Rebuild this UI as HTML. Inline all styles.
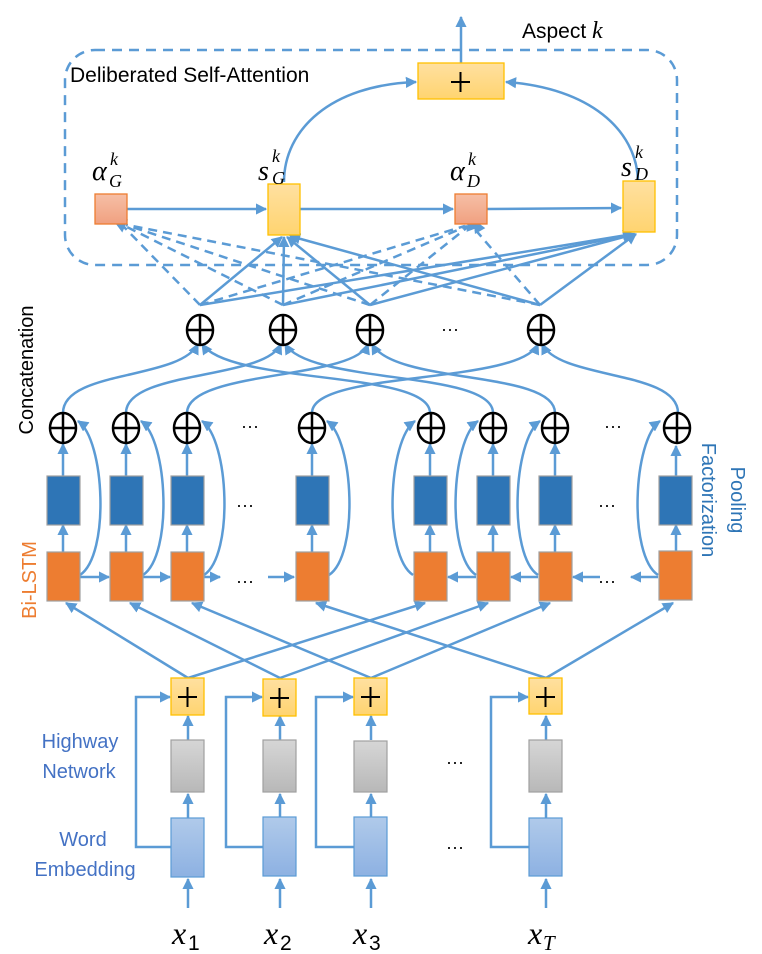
<!DOCTYPE html>
<html><head><meta charset="utf-8"><style>
html,body{margin:0;padding:0;background:#fff;}
svg{display:block;}
text{font-family:"Liberation Sans",sans-serif;}
text.m{font-family:"Liberation Serif",serif;font-style:italic;}
</style></head><body>
<svg width="762" height="954" viewBox="0 0 762 954" xmlns="http://www.w3.org/2000/svg">
<defs>
<marker id="a" viewBox="0 0 10 10" refX="9" refY="5" markerWidth="4.5" markerHeight="4.5" orient="auto"><path d="M0,0 L10,5 L0,10 z" fill="#5B9BD5"/></marker>
<linearGradient id="gold" x1="0" y1="0" x2="0" y2="1"><stop offset="0" stop-color="#FFE0A0"/><stop offset="1" stop-color="#FFD470"/></linearGradient>
<linearGradient id="sal" x1="0" y1="0" x2="0" y2="1"><stop offset="0" stop-color="#F6BFA6"/><stop offset="1" stop-color="#F0A080"/></linearGradient>
<linearGradient id="gray" x1="0" y1="0" x2="0" y2="1"><stop offset="0" stop-color="#D6D6D6"/><stop offset="1" stop-color="#B8B8B8"/></linearGradient>
<linearGradient id="emb" x1="0" y1="0" x2="0" y2="1"><stop offset="0" stop-color="#B0CAEA"/><stop offset="1" stop-color="#8DB1E2"/></linearGradient>
</defs>
<g fill="none" stroke="#5B9BD5" stroke-width="2.5">
<rect x="65" y="50" width="612" height="215" rx="30" stroke-dasharray="10,7"/>
<line x1="461" y1="63" x2="461" y2="17" marker-end="url(#a)"/>
<line x1="127" y1="209" x2="266" y2="209" marker-end="url(#a)"/>
<line x1="300" y1="209" x2="453" y2="209" marker-end="url(#a)"/>
<line x1="487" y1="209" x2="621" y2="208" marker-end="url(#a)"/>
<path d="M284,182 C284,130 330,85 416,82" marker-end="url(#a)"/>
<path d="M638,180 C636,130 590,88 506,82" marker-end="url(#a)"/>
<line x1="200" y1="305" x2="282" y2="237" marker-end="url(#a)"/>
<line x1="283" y1="305" x2="284" y2="237" marker-end="url(#a)"/>
<line x1="370" y1="305" x2="287" y2="237" marker-end="url(#a)"/>
<line x1="540" y1="305" x2="290" y2="236" marker-end="url(#a)"/>
<line x1="200" y1="305" x2="633" y2="234" marker-end="url(#a)"/>
<line x1="283" y1="305" x2="634" y2="234" marker-end="url(#a)"/>
<line x1="370" y1="305" x2="635" y2="234" marker-end="url(#a)"/>
<line x1="540" y1="305" x2="636" y2="234" marker-end="url(#a)"/>
<g stroke-dasharray="9,6">
<line x1="200" y1="305" x2="124" y2="227"/>
<line x1="283" y1="305" x2="125" y2="226"/>
<line x1="370" y1="305" x2="126" y2="225"/>
<line x1="540" y1="305" x2="127" y2="225"/>
<line x1="200" y1="305" x2="465" y2="226"/>
<line x1="283" y1="305" x2="467" y2="226"/>
<line x1="370" y1="305" x2="469" y2="226"/>
<line x1="540" y1="305" x2="473" y2="227"/>
</g>
<path d="M122,230 l-6,-8 l10,-1 z" fill="#5B9BD5"/>
<path d="M468,230 l1,-10 l7,7 z" fill="#5B9BD5"/>
<path d="M476,232 l-1,-10 l8,6 z" fill="#5B9BD5"/>
<path d="M63,413 C63,370 180,380 198,344" marker-end="url(#a)"/>
<path d="M430,413 C430,370 230,385 202,344" marker-end="url(#a)"/>
<path d="M126,413 C126,370 265,380 281,344" marker-end="url(#a)"/>
<path d="M493,413 C493,370 310,385 285,344" marker-end="url(#a)"/>
<path d="M187,413 C187,370 355,380 368,344" marker-end="url(#a)"/>
<path d="M555,413 C555,370 395,385 372,344" marker-end="url(#a)"/>
<path d="M312,413 C312,370 520,385 538,344" marker-end="url(#a)"/>
<path d="M678,413 C678,370 560,380 542,344" marker-end="url(#a)"/>
<line x1="80" y1="577" x2="109" y2="577" marker-end="url(#a)"/>
<line x1="143" y1="577" x2="170" y2="577" marker-end="url(#a)"/>
<line x1="204" y1="577" x2="220" y2="577" marker-end="url(#a)"/>
<line x1="268" y1="577" x2="294" y2="577" marker-end="url(#a)"/>
<line x1="476" y1="577" x2="448" y2="577" marker-end="url(#a)"/>
<line x1="538" y1="577" x2="511" y2="577" marker-end="url(#a)"/>
<line x1="600" y1="577" x2="573" y2="577" marker-end="url(#a)"/>
<line x1="658" y1="577" x2="631" y2="577" marker-end="url(#a)"/>
<path d="M80,575 C110,555 105,440 78,421" marker-end="url(#a)"/>
<path d="M143,575 C173,555 168,440 141,421" marker-end="url(#a)"/>
<path d="M204,575 C234,555 229,440 202,421" marker-end="url(#a)"/>
<path d="M329,575 C359,555 354,440 327,421" marker-end="url(#a)"/>
<path d="M413,575 C383,555 388,440 415,421" marker-end="url(#a)"/>
<path d="M476,575 C446,555 451,440 478,421" marker-end="url(#a)"/>
<path d="M538,575 C508,555 513,440 540,421" marker-end="url(#a)"/>
<path d="M658,575 C628,555 633,440 660,421" marker-end="url(#a)"/>
<line x1="188" y1="678" x2="66" y2="603" marker-end="url(#a)"/>
<line x1="280" y1="678" x2="130" y2="603" marker-end="url(#a)"/>
<line x1="371" y1="678" x2="192" y2="603" marker-end="url(#a)"/>
<line x1="546" y1="678" x2="316" y2="603" marker-end="url(#a)"/>
<line x1="188" y1="678" x2="425" y2="603" marker-end="url(#a)"/>
<line x1="280" y1="678" x2="488" y2="603" marker-end="url(#a)"/>
<line x1="371" y1="678" x2="550" y2="603" marker-end="url(#a)"/>
<line x1="546" y1="678" x2="673" y2="603" marker-end="url(#a)"/>
<line x1="63" y1="552" x2="63" y2="525" marker-end="url(#a)"/><line x1="63" y1="476" x2="63" y2="444" marker-end="url(#a)"/>
<line x1="126" y1="552" x2="126" y2="525" marker-end="url(#a)"/><line x1="126" y1="476" x2="126" y2="444" marker-end="url(#a)"/>
<line x1="187" y1="552" x2="187" y2="525" marker-end="url(#a)"/><line x1="187" y1="476" x2="187" y2="444" marker-end="url(#a)"/>
<line x1="312" y1="552" x2="312" y2="525" marker-end="url(#a)"/><line x1="312" y1="476" x2="312" y2="444" marker-end="url(#a)"/>
<line x1="430" y1="552" x2="430" y2="525" marker-end="url(#a)"/><line x1="430" y1="476" x2="430" y2="444" marker-end="url(#a)"/>
<line x1="493" y1="552" x2="493" y2="525" marker-end="url(#a)"/><line x1="493" y1="476" x2="493" y2="444" marker-end="url(#a)"/>
<line x1="555" y1="552" x2="555" y2="525" marker-end="url(#a)"/><line x1="555" y1="476" x2="555" y2="444" marker-end="url(#a)"/>
<line x1="676" y1="552" x2="676" y2="525" marker-end="url(#a)"/><line x1="676" y1="476" x2="676" y2="446" marker-end="url(#a)"/>
<line x1="188" y1="908" x2="188" y2="879" marker-end="url(#a)"/><line x1="188" y1="818" x2="188" y2="794" marker-end="url(#a)"/><line x1="188" y1="740" x2="188" y2="716" marker-end="url(#a)"/>
<path d="M171,847 H136 V697 H170" marker-end="url(#a)"/>
<line x1="280" y1="908" x2="280" y2="879" marker-end="url(#a)"/><line x1="280" y1="818" x2="280" y2="794" marker-end="url(#a)"/><line x1="280" y1="740" x2="280" y2="716" marker-end="url(#a)"/>
<path d="M263,847 H226 V697 H262" marker-end="url(#a)"/>
<line x1="371" y1="908" x2="371" y2="879" marker-end="url(#a)"/><line x1="371" y1="818" x2="371" y2="794" marker-end="url(#a)"/><line x1="371" y1="740" x2="371" y2="716" marker-end="url(#a)"/>
<path d="M354,847 H316 V697 H353" marker-end="url(#a)"/>
<line x1="546" y1="908" x2="546" y2="879" marker-end="url(#a)"/><line x1="546" y1="818" x2="546" y2="794" marker-end="url(#a)"/><line x1="546" y1="740" x2="546" y2="716" marker-end="url(#a)"/>
<path d="M529,847 H491 V697 H528" marker-end="url(#a)"/>
</g>
<g stroke="#A0A0A0" stroke-width="1.2">
<g fill="#ED7D31">
<rect x="47" y="552" width="33" height="49"/><rect x="110" y="552" width="33" height="49"/><rect x="171" y="552" width="33" height="49"/><rect x="296" y="552" width="33" height="49"/>
<rect x="414" y="552" width="33" height="49"/><rect x="477" y="552" width="33" height="49"/><rect x="539" y="552" width="33" height="49"/><rect x="659" y="551" width="33" height="49"/>
</g>
<g fill="#2E75B6">
<rect x="47" y="476" width="33" height="49"/><rect x="110" y="476" width="33" height="49"/><rect x="171" y="476" width="33" height="49"/><rect x="296" y="476" width="33" height="49"/>
<rect x="414" y="476" width="33" height="49"/><rect x="477" y="476" width="33" height="49"/><rect x="539" y="476" width="33" height="49"/><rect x="659" y="476" width="33" height="49"/>
</g>
<g fill="url(#gray)">
<rect x="171" y="740" width="33" height="52"/><rect x="263" y="740" width="33" height="52"/><rect x="354" y="741" width="33" height="51"/><rect x="529" y="740" width="33" height="52"/>
</g>
</g>
<g fill="url(#emb)" stroke="#5B9BD5" stroke-width="1.2">
<rect x="171" y="818" width="33" height="59"/><rect x="263" y="817" width="33" height="59"/><rect x="354" y="817" width="33" height="59"/><rect x="529" y="818" width="33" height="58"/>
</g>
<g fill="url(#gold)" stroke="#FFC000" stroke-width="1.3">
<rect x="171" y="678" width="33" height="37"/><rect x="263" y="679" width="33" height="37"/><rect x="354" y="678" width="33" height="37"/><rect x="529" y="678" width="33" height="36"/>
<rect x="418" y="63" width="86" height="36"/>
<rect x="268" y="184" width="32" height="51"/>
<rect x="623" y="181" width="32" height="51"/>
</g>
<g fill="url(#sal)" stroke="#ED7D31" stroke-width="1.3">
<rect x="95" y="194" width="32" height="30"/><rect x="455" y="194" width="32" height="30"/>
</g>
<g stroke="#000" stroke-width="2">
<path d="M178,697 h19 M187.5,687 v20"/><path d="M270,698 h19 M279.5,688 v20"/><path d="M361,697 h19 M370.5,687 v20"/><path d="M536,697 h19 M545.5,687 v20"/>
<path d="M451,82 h19 M460.5,72 v20"/>
</g>
<g fill="none" stroke="#000" stroke-width="2.5">
<ellipse cx="63" cy="428" rx="13" ry="15"/><path d="M50,428 h26 M63,413 v30"/>
<ellipse cx="126" cy="428" rx="13" ry="15"/><path d="M113,428 h26 M126,413 v30"/>
<ellipse cx="187" cy="428" rx="13" ry="15"/><path d="M174,428 h26 M187,413 v30"/>
<ellipse cx="312" cy="428" rx="13" ry="15"/><path d="M299,428 h26 M312,413 v30"/>
<ellipse cx="431" cy="428" rx="13" ry="15"/><path d="M418,428 h26 M431,413 v30"/>
<ellipse cx="493" cy="428" rx="13" ry="15"/><path d="M480,428 h26 M493,413 v30"/>
<ellipse cx="555" cy="428" rx="13" ry="15"/><path d="M542,428 h26 M555,413 v30"/>
<ellipse cx="677" cy="428" rx="13" ry="15"/><path d="M664,428 h26 M677,413 v30"/>
<ellipse cx="200" cy="330" rx="13" ry="15"/><path d="M187,330 h26 M200,315 v30"/>
<ellipse cx="283" cy="330" rx="13" ry="15"/><path d="M270,330 h26 M283,315 v30"/>
<ellipse cx="370" cy="330" rx="13" ry="15"/><path d="M357,330 h26 M370,315 v30"/>
<ellipse cx="541" cy="330" rx="13" ry="15"/><path d="M528,330 h26 M541,315 v30"/>
</g>
<g font-size="18" fill="#000" text-anchor="middle">
<text x="450" y="335">···</text>
<text x="250" y="432">···</text><text x="613" y="432">···</text>
<text x="245" y="511">···</text><text x="607" y="511">···</text>
<text x="245" y="587">···</text><text x="607" y="587">···</text>
<text x="455" y="768">···</text><text x="455" y="853">···</text>
</g>
<text x="70" y="82" font-size="21" fill="#000">Deliberated Self-Attention</text>
<text x="522" y="38" font-size="21" fill="#000">Aspect</text>
<text class="m" x="592" y="38" font-size="24" fill="#000">k</text>
<g fill="#000">
<text class="m" x="92" y="180" font-size="28">α</text><text class="m" x="110" y="165" font-size="18">k</text><text class="m" x="109" y="187" font-size="18">G</text>
<text class="m" x="258" y="180" font-size="28">s</text><text class="m" x="272" y="162" font-size="18">k</text><text class="m" x="272" y="184" font-size="18">G</text>
<text class="m" x="450" y="180" font-size="28">α</text><text class="m" x="468" y="165" font-size="18">k</text><text class="m" x="467" y="187" font-size="18">D</text>
<text class="m" x="621" y="176" font-size="28">s</text><text class="m" x="635" y="158" font-size="18">k</text><text class="m" x="635" y="180" font-size="18">D</text>
</g>
<g fill="#000">
<text class="m" x="172" y="944" font-size="32">x</text><text x="188" y="950" font-size="21" font-family="Liberation Serif">1</text>
<text class="m" x="264" y="944" font-size="32">x</text><text x="280" y="950" font-size="21" font-family="Liberation Serif">2</text>
<text class="m" x="353" y="944" font-size="32">x</text><text x="369" y="950" font-size="21" font-family="Liberation Serif">3</text>
<text class="m" x="528" y="944" font-size="32">x</text><text class="m" x="543" y="950" font-size="21">T</text>
</g>
<text transform="translate(33,370) rotate(-90)" text-anchor="middle" font-size="20" fill="#000">Concatenation</text>
<text transform="translate(36,580) rotate(-90)" text-anchor="middle" font-size="20" fill="#ED7D31">Bi-LSTM</text>
<text transform="translate(702,500) rotate(90)" text-anchor="middle" font-size="20" fill="#2E75B6">Factorization</text>
<text transform="translate(731,500) rotate(90)" text-anchor="middle" font-size="20" fill="#2E75B6">Pooling</text>
<g font-size="20" fill="#4472C4" text-anchor="middle">
<text x="80" y="748">Highway</text><text x="79" y="778">Network</text>
<text x="83" y="846">Word</text><text x="85" y="876">Embedding</text>
</g>
</svg>
</body></html>
